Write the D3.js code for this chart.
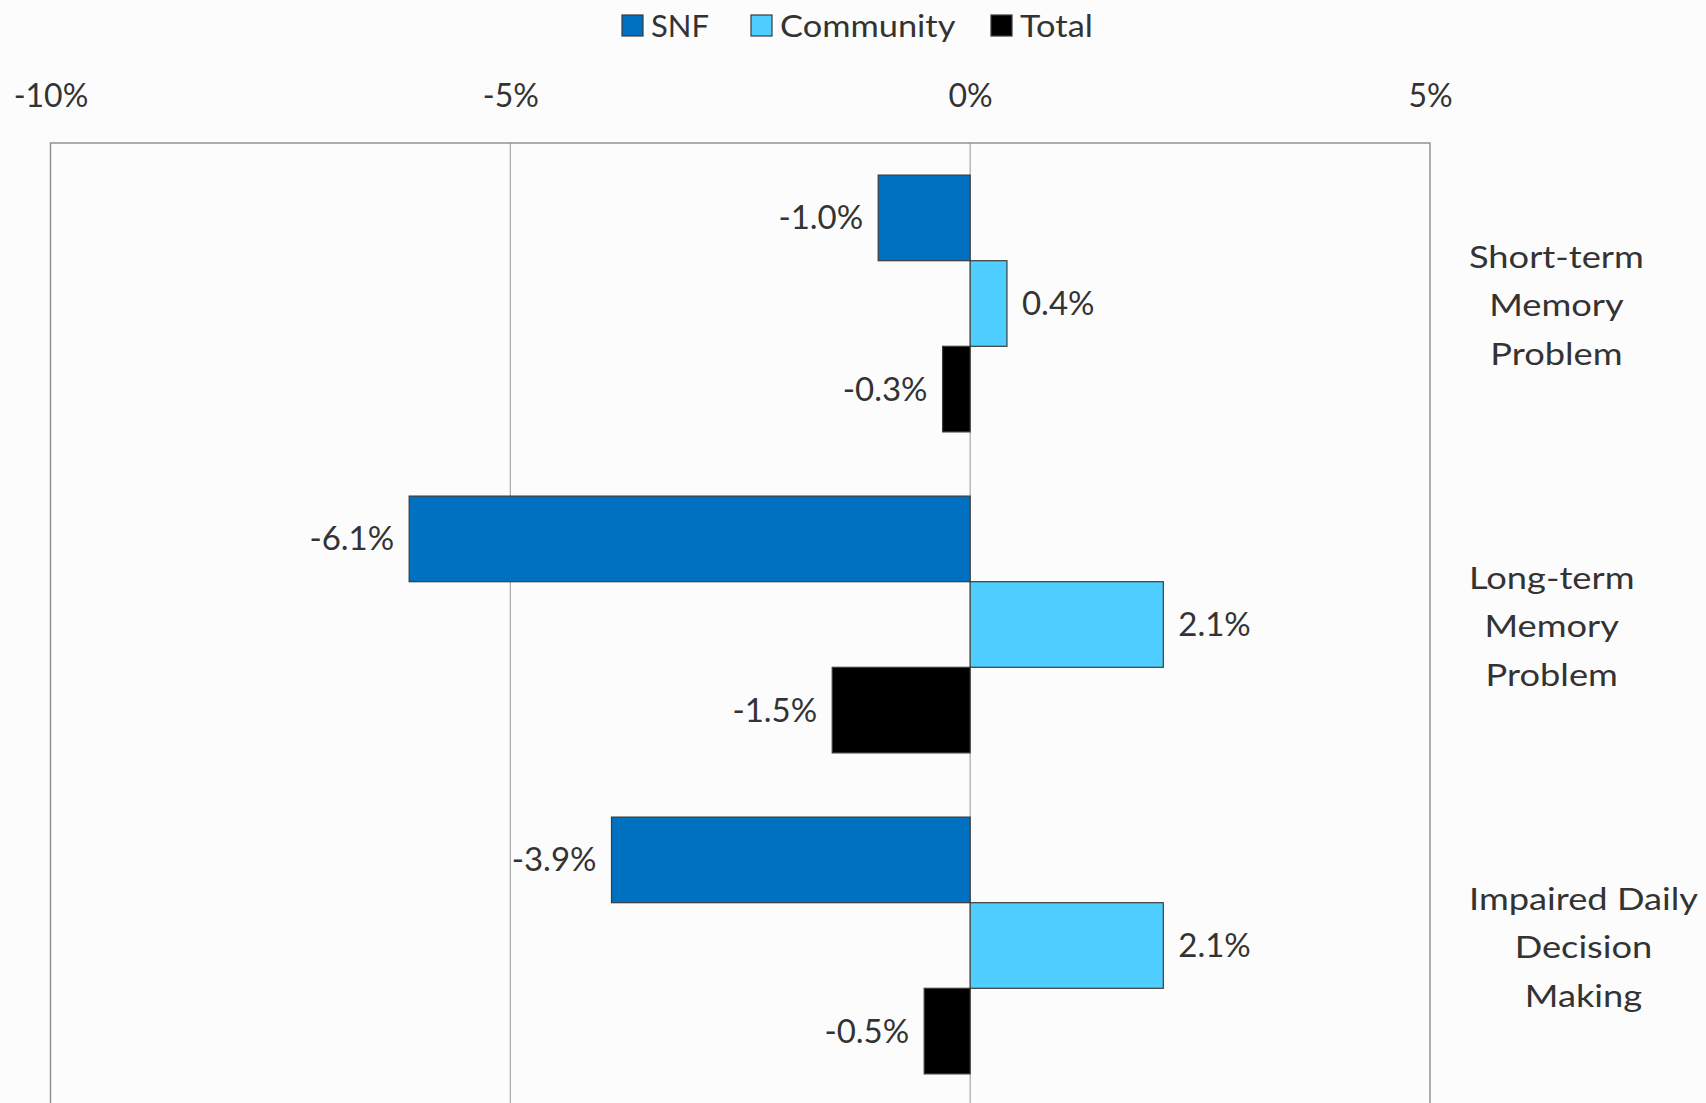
<!DOCTYPE html>
<html>
<head>
<meta charset="utf-8">
<script src="https://cdn.jsdelivr.net/npm/d3@7"></script>
<style>
  html, body { margin: 0; padding: 0; background: #fcfcfc; }
  svg { display: block; }
  text { font-family: Lato, "Open Sans", sans-serif; fill: #333; }
</style>
</head>
<body>
<svg id="chart" width="1706" height="1103"></svg>
<script>
// Change in cognitive measures by setting (percentage points)
const categories = [
  ["Short-term", "Memory", "Problem"],
  ["Long-term", "Memory", "Problem"],
  ["Impaired Daily", "Decision", "Making"]
];
const seriesNames = ["SNF", "Community", "Total"];
const snfValues = [-1.0, -6.1, -3.9];
const communityValues = [0.4, 2.1, 2.1];
const totalValues = [-0.3, -1.5, -0.5];
const tickValues = [-10, -5, 0, 5];
const seriesColors = ["#0070C0", "#4FCFFF", "#000000"];

const seriesValues = [snfValues, communityValues, totalValues];
const catKeys = categories.map((c, i) => i);

const svg = d3.select("#chart");
const plot = { left: 50.5, right: 1430, top: 143, bottom: 1106 };
const wide = 1.17; // horizontal widening applied to word labels

const x = d3.scaleLinear().domain([-10, 5]).range([plot.left, plot.right]);
const y = d3.scaleBand().domain(catKeys).range([plot.top, plot.bottom]).padding(0);
const ySub = d3.scaleBand().domain(seriesNames).range([0, y.bandwidth()])
  .paddingInner(0).paddingOuter(0.375);

// gridlines
svg.append("g").selectAll("line")
  .data(tickValues.slice(1, -1))
  .join("line")
  .attr("x1", d => x(d)).attr("x2", d => x(d))
  .attr("y1", plot.top).attr("y2", plot.bottom)
  .attr("stroke", "#a6a6a6").attr("stroke-width", 1.2);

// plot frame
svg.append("rect")
  .attr("x", plot.left).attr("y", plot.top)
  .attr("width", plot.right - plot.left).attr("height", plot.bottom - plot.top)
  .attr("fill", "none").attr("stroke", "#8c8c8c").attr("stroke-width", 1.4);

// top value axis
const axis = svg.append("g")
  .attr("transform", `translate(0,${plot.top})`)
  .call(d3.axisTop(x).tickValues(tickValues).tickFormat(d => d + "%").tickSize(0).tickPadding(36));
axis.select(".domain").remove();
axis.selectAll("text").attr("font-size", 32).style("font-family", "Lato, sans-serif").attr("fill", "#333");

// bars
const fmt = v => v.toFixed(1) + "%";
seriesNames.forEach((name, si) => {
  const g = svg.append("g");
  const vals = seriesValues[si];
  g.selectAll("rect")
    .data(vals)
    .join("rect")
    .attr("x", d => x(Math.min(0, d)))
    .attr("width", d => Math.abs(x(d) - x(0)))
    .attr("y", (d, i) => y(i) + ySub(name))
    .attr("height", ySub.bandwidth())
    .attr("fill", seriesColors[si])
    .attr("stroke", "#3b3b3b").attr("stroke-width", 1.2);
  g.selectAll("text")
    .data(vals)
    .join("text")
    .attr("x", d => d < 0 ? x(d) - 15 : x(d) + 15)
    .attr("y", (d, i) => y(i) + ySub(name) + ySub.bandwidth() / 2)
    .attr("dy", "0.35em")
    .attr("text-anchor", d => d < 0 ? "end" : "start")
    .attr("font-size", 33)
    .text(fmt);
});

// category labels (right side, lines centred within a left-aligned block)
const labelLeft = 1469;
const lineH = 48.4;
categories.forEach((lines, i) => {
  const g = svg.append("g").attr("transform", `translate(${labelLeft},0) scale(${wide},1)`);
  const t = g.append("text")
    .attr("font-size", 31)
    .attr("text-anchor", "middle");
  const cy = y(i) + y.bandwidth() / 2 + 2;
  lines.forEach((ln, k) => {
    t.append("tspan")
      .attr("y", cy + (k - (lines.length - 1) / 2) * lineH)
      .attr("dy", "0.35em")
      .text(ln);
  });
  let w = 0;
  t.selectAll("tspan").each(function () { w = Math.max(w, this.getComputedTextLength()); });
  t.selectAll("tspan").attr("x", w / 2);
});

// legend
const legendItems = [
  { name: "SNF", sq: 622 },
  { name: "Community", sq: 751 },
  { name: "Total", sq: 991 }
];
const lg = svg.append("g");
legendItems.forEach((it, i) => {
  lg.append("rect")
    .attr("x", it.sq).attr("y", 15)
    .attr("width", 21).attr("height", 21)
    .attr("fill", seriesColors[i])
    .attr("stroke", "#3b3b3b").attr("stroke-width", 1.2);
  lg.append("g")
    .attr("transform", `translate(${it.sq + 29},26) scale(${i === 0 ? 1 : 1.11},1)`)
    .append("text")
    .attr("dy", "0.35em")
    .attr("font-size", 31)
    .text(it.name);
});
</script>
</body>
</html>
